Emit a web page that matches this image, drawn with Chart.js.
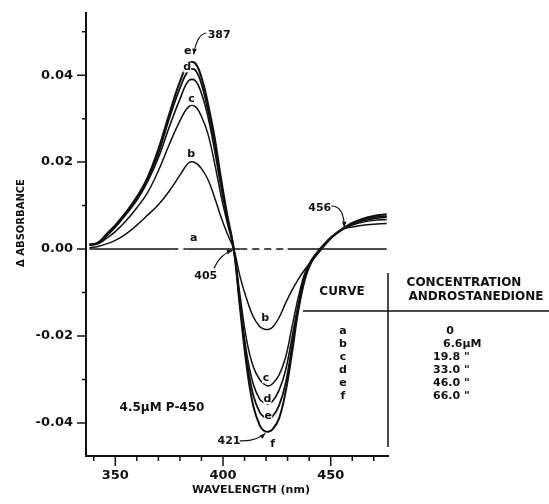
<!DOCTYPE html>
<html>
<head>
<meta charset="utf-8">
<script src="https://cdn.jsdelivr.net/npm/chart.js@4/dist/chart.umd.min.js"></script>
<style>html,body{margin:0;padding:0;background:#fff}</style>
</head>
<body>
<canvas id="diffSpectrum" width="549" height="504"></canvas>
<script>
// wavelength grid (nm)
const wavelengths = [338, 342, 346, 350, 355, 360, 365, 370, 375, 380, 384, 387, 390, 393, 396, 399, 402, 405,
  408, 411, 414, 417, 419, 421, 423, 426, 429, 432, 435, 438, 441, 444, 447, 450, 453, 456, 460, 465, 470, 476];

// delta absorbance for each curve
const curveB = [0.0003, 0.0006, 0.0012, 0.002, 0.0035, 0.0055, 0.0078, 0.0102, 0.0133, 0.017, 0.0198, 0.0199,
  0.0185, 0.016, 0.012, 0.0075, 0.0035, 0,
  -0.0065, -0.0115, -0.0155, -0.0178, -0.0184, -0.0185,
  -0.018, -0.0158, -0.0125, -0.0095, -0.0069, -0.0047, -0.0028, -0.0009, 0.0009, 0.0024, 0.0036, 0.0046, 0.0051, 0.0055, 0.0057, 0.0059];
const curveC = [0.0008, 0.0012, 0.0025, 0.004, 0.0065, 0.0095, 0.013, 0.018, 0.024, 0.0295, 0.0327, 0.0328,
  0.0305, 0.0265, 0.020, 0.0125, 0.006, 0,
  -0.011, -0.021, -0.027, -0.030, -0.031, -0.0315,
  -0.031, -0.029, -0.025, -0.018, -0.011, -0.0055, -0.0025, -0.0005, 0.0012, 0.0027, 0.0038, 0.0047, 0.0055, 0.0062, 0.0066, 0.0068];
const curveD = [0.001, 0.0014, 0.003, 0.005, 0.008, 0.0112, 0.0155, 0.021, 0.028, 0.0345, 0.0387, 0.0388,
  0.0358, 0.0305, 0.023, 0.0145, 0.007, 0,
  -0.0125, -0.024, -0.031, -0.0345, -0.0353, -0.0356,
  -0.035, -0.0325, -0.028, -0.0205, -0.0125, -0.0062, -0.0028, -0.0007, 0.0011, 0.0026, 0.0038, 0.0048, 0.0057, 0.0065, 0.007, 0.0073];
const curveE = [0.001, 0.0015, 0.0033, 0.0053, 0.0083, 0.0117, 0.016, 0.022, 0.030, 0.037, 0.0411, 0.0412,
  0.038, 0.032, 0.0248, 0.0155, 0.0073, 0,
  -0.0133, -0.0255, -0.0335, -0.0375, -0.0386, -0.039,
  -0.0385, -0.036, -0.031, -0.0225, -0.0135, -0.0067, -0.003, -0.0009, 0.0009, 0.0025, 0.0038, 0.0048, 0.0058, 0.0068, 0.0073, 0.0076];
const curveF = [0.001, 0.0015, 0.0035, 0.0055, 0.0085, 0.012, 0.0165, 0.023, 0.031, 0.0385, 0.0427, 0.0428,
  0.0395, 0.0335, 0.026, 0.0165, 0.0078, 0,
  -0.014, -0.027, -0.036, -0.0405, -0.0418, -0.042,
  -0.0415, -0.039, -0.033, -0.024, -0.014, -0.007, -0.003, -0.001, 0.0008, 0.0025, 0.0038, 0.0048, 0.006, 0.007, 0.0076, 0.008];

// curve a: flat baseline, partly dashed
const curveAWl = [338, 376, 383, 408, 430, 476];
const curveA = [0, 0, 0, 0, 0, 0];
const curveADashedFrom = [376, 408];

// legend table
const curveNames = ['a', 'b', 'c', 'd', 'e', 'f'];
const concentrations = ['0', '6.6\u03BCM', '19.8 "', '33.0 "', '46.0 "', '66.0 "'];

const xMajor = [350, 400, 450];

const toPoints = (xs, ys) => xs.map((x, i) => ({ x, y: ys[i] }));
const FONT = '"DejaVu Sans", sans-serif';

function curve(label, ys, width) {
  return {
    label,
    data: toPoints(wavelengths, ys),
    borderColor: '#111',
    borderWidth: width,
    pointRadius: 0,
    tension: 0.4,
    fill: false
  };
}

// text labels next to curves, placed in data units
const curveTags = [
  { t: 'a', x: 386.4, y: 0.0026 },
  { t: 'b', x: 385.2, y: 0.0218 },
  { t: 'c', x: 385.4, y: 0.0345 },
  { t: 'd', x: 383.4, y: 0.0418 },
  { t: 'e', x: 383.6, y: 0.0455 },
  { t: 'b', x: 419.6, y: -0.0160 },
  { t: 'c', x: 420.0, y: -0.0297 },
  { t: 'd', x: 420.6, y: -0.0345 },
  { t: 'e', x: 421.0, y: -0.0385 },
  { t: 'f', x: 423.0, y: -0.0448 }
];
const callouts = [
  { t: '387', x: 398.2, y: 0.0492, from: [392.2, 0.0497], ctrl: [387.9, 0.0494], to: [386.4, 0.0448] },
  { t: '405', x: 392.0, y: -0.0062, from: [395.8, -0.0044], ctrl: [398.6, -0.0012], to: [404.4, -0.0003] },
  { t: '421', x: 402.8, y: -0.0441, from: [407.8, -0.0441], ctrl: [415.4, -0.0443], to: [419.6, -0.0424] },
  { t: '456', x: 444.9, y: 0.0095, from: [450.3, 0.0099], ctrl: [456.2, 0.0099], to: [456.3, 0.0050] }
];

const decorations = {
  id: 'decorations',
  afterDraw(chart) {
    const { ctx, chartArea: area, scales: { x, y } } = chart;
    const px = v => x.getPixelForValue(v);
    const py = v => y.getPixelForValue(v);
    ctx.save();
    ctx.strokeStyle = '#111';
    ctx.fillStyle = '#111';

    // tick marks
    ctx.lineWidth = 1.5;
    ctx.beginPath();
    x.ticks.forEach(t => {
      const len = xMajor.includes(Math.round(t.value)) ? 10 : 5;
      ctx.moveTo(px(t.value), area.bottom);
      ctx.lineTo(px(t.value), area.bottom + len);
    });
    y.ticks.forEach(t => {
      const len = Math.abs(Math.round(t.value * 100)) % 2 === 0 ? 9 : 4;
      ctx.moveTo(area.left, py(t.value));
      ctx.lineTo(area.left - len, py(t.value));
    });
    ctx.stroke();

    // axis titles
    ctx.textAlign = 'center';
    ctx.textBaseline = 'middle';
    ctx.font = 'bold 11px ' + FONT;
    ctx.fillText('WAVELENGTH (nm)', 251, 490);
    ctx.save();
    ctx.translate(21, 223);
    ctx.rotate(-Math.PI / 2);
    ctx.font = 'bold 10px ' + FONT;
    ctx.fillText('\u0394 ABSORBANCE', 0, 0);
    ctx.restore();

    // curve letters
    ctx.font = 'bold 11px ' + FONT;
    curveTags.forEach(c => {
      ctx.fillStyle = '#fff';
      ctx.fillRect(px(c.x) - 4, py(c.y) - 5, 8, 10);
      ctx.fillStyle = '#111';
      ctx.fillText(c.t, px(c.x), py(c.y));
    });

    // callouts with arrows
    ctx.lineWidth = 1.2;
    callouts.forEach(c => {
      ctx.fillText(c.t, px(c.x), py(c.y));
      const [x0, y0] = [px(c.from[0]), py(c.from[1])];
      const [cx, cy] = [px(c.ctrl[0]), py(c.ctrl[1])];
      const [x1, y1] = [px(c.to[0]), py(c.to[1])];
      ctx.beginPath();
      ctx.moveTo(x0, y0);
      ctx.quadraticCurveTo(cx, cy, x1, y1);
      ctx.stroke();
      const ang = Math.atan2(y1 - cy, x1 - cx);
      ctx.beginPath();
      ctx.moveTo(x1, y1);
      ctx.lineTo(x1 - 6 * Math.cos(ang - 0.4), y1 - 6 * Math.sin(ang - 0.4));
      ctx.lineTo(x1 - 6 * Math.cos(ang + 0.4), y1 - 6 * Math.sin(ang + 0.4));
      ctx.closePath();
      ctx.fill();
    });

    ctx.font = 'bold 12px ' + FONT;
    ctx.fillText('4.5\u03BCM P-450', 162, 408);

    // concentration table
    ctx.font = 'bold 12px ' + FONT;
    ctx.fillText('CURVE', 342, 292);
    ctx.fillText('CONCENTRATION', 464, 283);
    ctx.fillText('ANDROSTANEDIONE', 476, 297);
    ctx.lineWidth = 1.5;
    ctx.beginPath();
    ctx.moveTo(303, 311); ctx.lineTo(549, 311);
    ctx.moveTo(area.right, 273); ctx.lineTo(area.right, 447);
    ctx.stroke();
    ctx.font = 'bold 11px ' + FONT;
    curveNames.forEach((n, i) => {
      const rowY = 331 + i * 13;
      ctx.textAlign = 'center';
      ctx.fillText(n, 343, rowY);
      if (i === 0) {
        ctx.fillText(concentrations[i], 450, rowY);
      } else {
        ctx.textAlign = 'left';
        ctx.fillText(concentrations[i], i === 1 ? 443 : 433, rowY);
      }
    });
    ctx.restore();
  }
};

new Chart(document.getElementById('diffSpectrum'), {
  type: 'line',
  data: {
    datasets: [
      {
        label: 'a',
        data: toPoints(curveAWl, curveA),
        borderColor: '#111',
        borderWidth: 1.6,
        pointRadius: 0,
        segment: {
          borderDash: ctx => curveADashedFrom.includes(ctx.p0.parsed.x) ? [7, 5] : undefined
        }
      },
      curve('b', curveB, 1.5),
      curve('c', curveC, 1.5),
      curve('d', curveD, 1.6),
      curve('e', curveE, 1.8),
      curve('f', curveF, 2)
    ]
  },
  options: {
    responsive: false,
    devicePixelRatio: 1,
    animation: false,
    layout: { padding: { left: 0, right: 161, top: 13, bottom: 0 } },
    plugins: { legend: { display: false }, tooltip: { enabled: false } },
    scales: {
      x: {
        type: 'linear',
        min: 336.4,
        max: 476.6,
        afterFit: s => { s.height = 48; },
        border: { display: true, color: '#111', width: 2 },
        grid: { drawOnChartArea: false, drawTicks: true, tickLength: 9, tickColor: 'rgba(0,0,0,0)' },
        ticks: {
          stepSize: 10,
          includeBounds: false,
          autoSkip: false,
          maxRotation: 0,
          padding: 3,
          color: '#111',
          font: { family: FONT, size: 13, weight: 'bold' },
          callback: v => xMajor.includes(Math.round(v)) ? String(Math.round(v)) : ''
        }
      },
      y: {
        min: -0.0476,
        max: 0.0543,
        afterFit: s => { s.width = 86; },
        border: { display: true, color: '#111', width: 2 },
        grid: { drawOnChartArea: false, drawTicks: true, tickLength: 9, tickColor: 'rgba(0,0,0,0)' },
        ticks: {
          stepSize: 0.01,
          includeBounds: false,
          autoSkip: false,
          padding: 4,
          color: '#111',
          font: { family: FONT, size: 13, weight: 'bold' },
          callback: v => {
            const h = Math.round(v * 100);
            return Math.abs(h) % 2 === 0 ? (h / 100).toFixed(2) : '';
          }
        }
      }
    }
  },
  plugins: [decorations]
});
</script>
</body>
</html>
